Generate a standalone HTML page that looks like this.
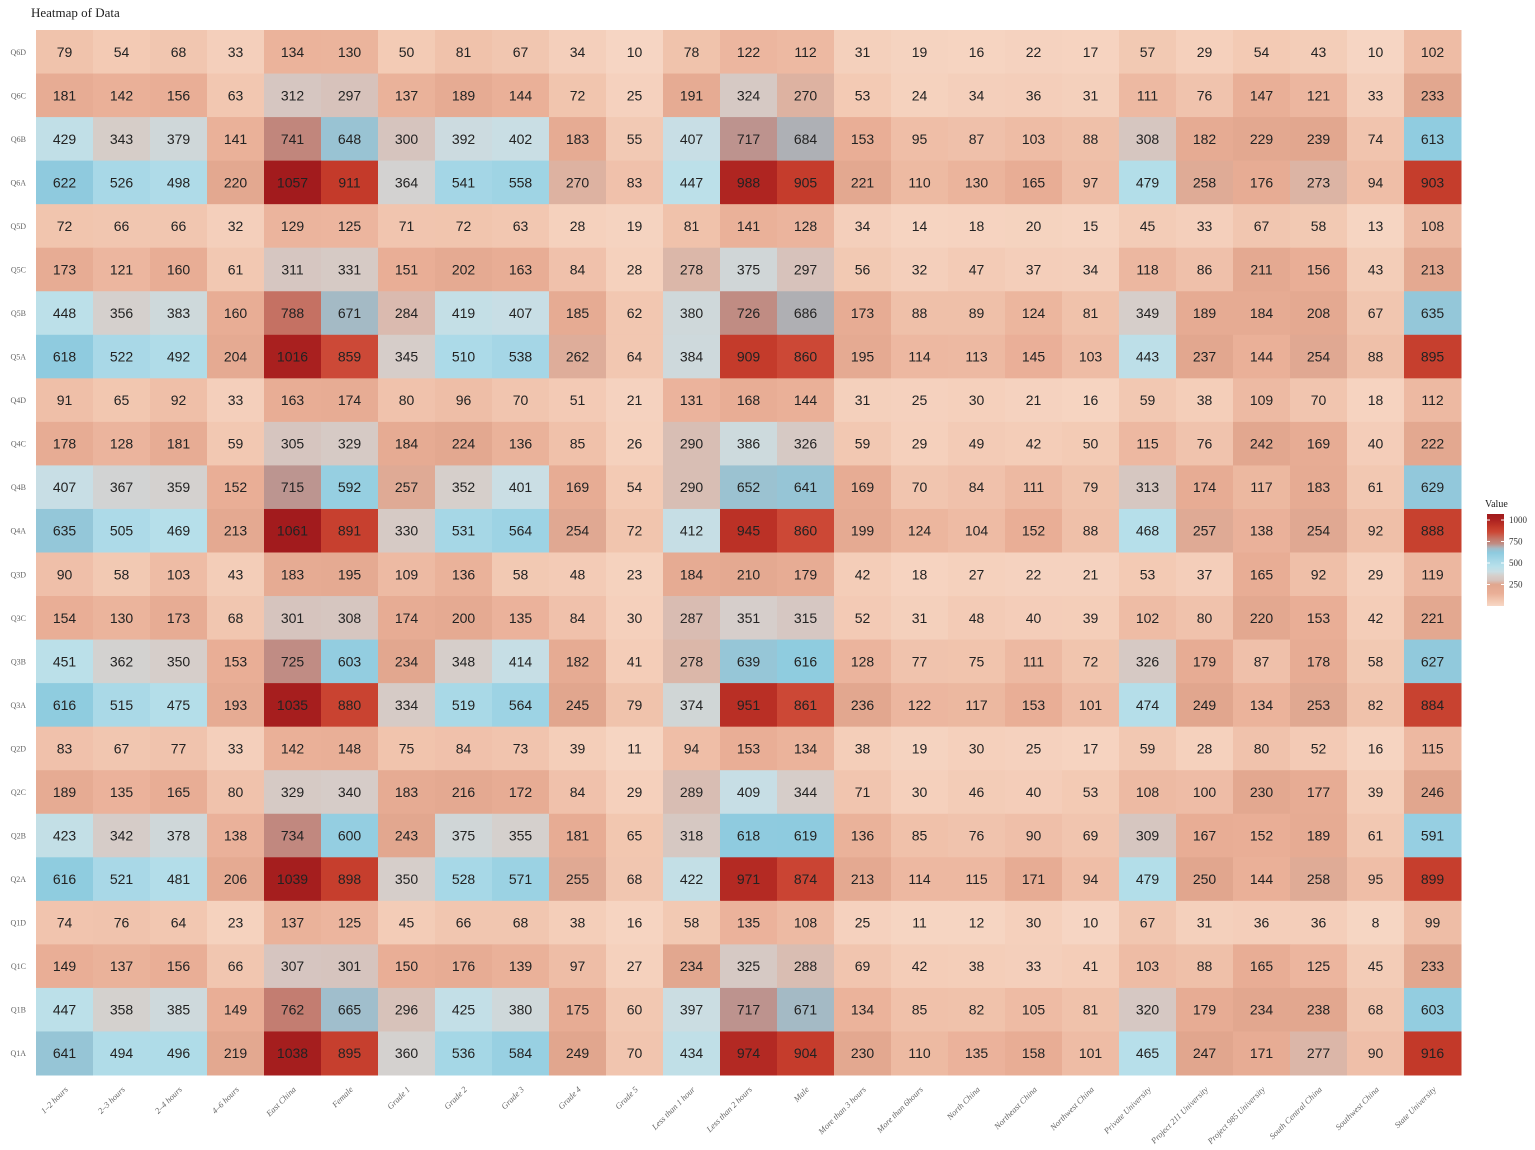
<!DOCTYPE html>
<html><head><meta charset="utf-8"><style>
body{margin:0;background:#fff;}
svg{display:block;font-family:"Liberation Sans",sans-serif;}
</style></head><body>
<svg id="chart" width="1535" height="1150" viewBox="0 0 1535 1150" xmlns="http://www.w3.org/2000/svg">
<text x="31" y="17" font-family="Liberation Serif,serif" font-size="13" fill="#222">Heatmap of Data</text>
<g id="cells"></g>
<g id="ylab"></g>
<g id="xlab"></g>
<g id="legend"></g>
</svg>
<script>
const columns=["1–2 hours","2–3 hours","2–4 hours","4–6 hours","East China","Female","Grade 1","Grade 2","Grade 3","Grade 4","Grade 5","Less than 1 hour","Less than 2 hours","Male","More than 3 hours","More than 6hours","North China","Northeast China","Northwest China","Private University","Project 211 University","Project 985 University","South Central China","Southwest China","State University"];
const rows=["Q6D","Q6C","Q6B","Q6A","Q5D","Q5C","Q5B","Q5A","Q4D","Q4C","Q4B","Q4A","Q3D","Q3C","Q3B","Q3A","Q2D","Q2C","Q2B","Q2A","Q1D","Q1C","Q1B","Q1A"];
const values=[
[79,54,68,33,134,130,50,81,67,34,10,78,122,112,31,19,16,22,17,57,29,54,43,10,102],
[181,142,156,63,312,297,137,189,144,72,25,191,324,270,53,24,34,36,31,111,76,147,121,33,233],
[429,343,379,141,741,648,300,392,402,183,55,407,717,684,153,95,87,103,88,308,182,229,239,74,613],
[622,526,498,220,1057,911,364,541,558,270,83,447,988,905,221,110,130,165,97,479,258,176,273,94,903],
[72,66,66,32,129,125,71,72,63,28,19,81,141,128,34,14,18,20,15,45,33,67,58,13,108],
[173,121,160,61,311,331,151,202,163,84,28,278,375,297,56,32,47,37,34,118,86,211,156,43,213],
[448,356,383,160,788,671,284,419,407,185,62,380,726,686,173,88,89,124,81,349,189,184,208,67,635],
[618,522,492,204,1016,859,345,510,538,262,64,384,909,860,195,114,113,145,103,443,237,144,254,88,895],
[91,65,92,33,163,174,80,96,70,51,21,131,168,144,31,25,30,21,16,59,38,109,70,18,112],
[178,128,181,59,305,329,184,224,136,85,26,290,386,326,59,29,49,42,50,115,76,242,169,40,222],
[407,367,359,152,715,592,257,352,401,169,54,290,652,641,169,70,84,111,79,313,174,117,183,61,629],
[635,505,469,213,1061,891,330,531,564,254,72,412,945,860,199,124,104,152,88,468,257,138,254,92,888],
[90,58,103,43,183,195,109,136,58,48,23,184,210,179,42,18,27,22,21,53,37,165,92,29,119],
[154,130,173,68,301,308,174,200,135,84,30,287,351,315,52,31,48,40,39,102,80,220,153,42,221],
[451,362,350,153,725,603,234,348,414,182,41,278,639,616,128,77,75,111,72,326,179,87,178,58,627],
[616,515,475,193,1035,880,334,519,564,245,79,374,951,861,236,122,117,153,101,474,249,134,253,82,884],
[83,67,77,33,142,148,75,84,73,39,11,94,153,134,38,19,30,25,17,59,28,80,52,16,115],
[189,135,165,80,329,340,183,216,172,84,29,289,409,344,71,30,46,40,53,108,100,230,177,39,246],
[423,342,378,138,734,600,243,375,355,181,65,318,618,619,136,85,76,90,69,309,167,152,189,61,591],
[616,521,481,206,1039,898,350,528,571,255,68,422,971,874,213,114,115,171,94,479,250,144,258,95,899],
[74,76,64,23,137,125,45,66,68,38,16,58,135,108,25,11,12,30,10,67,31,36,36,8,99],
[149,137,156,66,307,301,150,176,139,97,27,234,325,288,69,42,38,33,41,103,88,165,125,45,233],
[447,358,385,149,762,665,296,425,380,175,60,397,717,671,134,85,82,105,81,320,179,234,238,68,603],
[641,494,496,219,1038,895,360,536,584,249,70,434,974,904,230,110,135,158,101,465,247,171,277,90,916]];
const legendTicks=[250,500,750,1000];

const NS="http://www.w3.org/2000/svg";
const X0=36,X1=1461,Y0=30,Y1=1075;
const cw=(X1-X0)/columns.length, ch=(Y1-Y0)/rows.length;
const xPos=i=>X0+i*cw, yPos=j=>Y0+j*ch;
const stops=[[0,[247,216,198]],[60,[242,200,178]],[150,[233,174,150]],[250,[225,166,142]],[300,[214,196,190]],[350,[214,206,202]],[400,[202,222,228]],[460,[184,224,234]],[540,[164,214,230]],[620,[142,203,223]],[665,[160,190,204]],[690,[178,172,174]],[725,[192,140,132]],[780,[196,118,104]],[860,[204,72,54]],[920,[194,56,40]],[1000,[172,34,32]],[1070,[160,26,28]]];
function color(v){
  for(let k=1;k<stops.length;k++){
    if(v<=stops[k][0]){const a=stops[k-1],b=stops[k];const t=(v-a[0])/(b[0]-a[0]);
      const c=a[1].map((x,i)=>Math.round(x+(b[1][i]-x)*t));return `rgb(${c.join(',')})`;}
  }
  const c=stops[stops.length-1][1];return `rgb(${c.join(',')})`;
}
function mk(tag,attrs,parent){const e=document.createElementNS(NS,tag);for(const k in attrs)e.setAttribute(k,attrs[k]);parent.appendChild(e);return e;}
const cells=document.getElementById('cells');
rows.forEach((r,j)=>{columns.forEach((c,i)=>{
  const v=values[j][i];
  const rect=mk('rect',{x:xPos(i),y:yPos(j),width:cw+0.5,height:ch+0.5,fill:color(v)},cells);
  
  
  const t=mk('text',{x:xPos(i)+cw/2,y:yPos(j)+ch/2+5,'text-anchor':'middle','font-size':'14',fill:'#222'},cells);
  
  
  t.textContent=v;
});});
const yl=document.getElementById('ylab');
rows.forEach((r,j)=>{
  const t=mk('text',{x:26,y:yPos(j)+ch/2+3,'text-anchor':'end','font-size':'8','font-family':'Liberation Serif,serif',fill:'#666'},yl);
  
  
  t.textContent=r;
});
const xl=document.getElementById('xlab');
columns.forEach((c,i)=>{
  const x=xPos(i)+cw/2+4,y=1090;
  const t=mk('text',{x:x,y:y,'text-anchor':'end','font-size':'8.5','font-style':'italic','font-family':'Liberation Serif,serif',fill:'#666',transform:`rotate(-45 ${x} ${y})`},xl);
  
  
  t.textContent=c;
});
const lg=document.getElementById('legend');
const LX=1487,LY0=514,LY1=606,vmax=1070;
const defs=mk('defs',{},lg);
const grad=mk('linearGradient',{id:'lgr',x1:0,y1:1,x2:0,y2:0},defs);
stops.forEach(s=>{mk('stop',{offset:(s[0]/vmax),'stop-color':color(s[0])},grad);});
const lt=mk('text',{x:1485,y:507,'font-size':'10','font-family':'Liberation Serif,serif',fill:'#222'},lg);


lt.textContent='Value';
const bar=mk('rect',{x:LX,y:LY0,width:17,height:LY1-LY0,fill:'url(#lgr)'},lg);


legendTicks.forEach(v=>{
  const y=LY1-(v/vmax)*(LY1-LY0);
  mk('line',{x1:LX,x2:LX+3,y1:y,y2:y,stroke:'#fff','stroke-width':1},lg);
  mk('line',{x1:LX+14,x2:LX+17,y1:y,y2:y,stroke:'#fff','stroke-width':1},lg);
  const t=mk('text',{x:LX+22,y:y+3,'font-size':'9','font-family':'Liberation Serif,serif',fill:'#333'},lg);
  
  
  t.textContent=v;
});
</script>
</body></html>
